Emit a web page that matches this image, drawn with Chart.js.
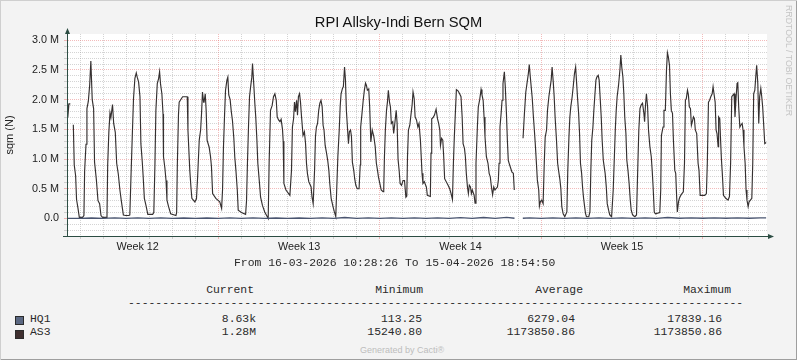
<!DOCTYPE html>
<html>
<head>
<meta charset="utf-8">
<script src="https://cdn.jsdelivr.net/npm/chart.js@4.4.1/dist/chart.umd.min.js"></script>
<style>
  body { margin: 0; background: #fff; }
  #wrap {
    position: relative; width: 797px; height: 360px; overflow: hidden;
    background: #f3f3f3;
    box-shadow: inset 1px 1px 0 #cfcfcf, inset -1px -1px 0 #9e9e9e;
    font-family: 'Liberation Sans', Arial, sans-serif;
  }
  #graph { position: absolute; left: 0; top: 0; }
  .t { position: absolute; white-space: pre; }
  .mono { font-family: 'Liberation Mono', 'DejaVu Sans Mono', monospace; font-size: 11.4px; line-height: 13px; color: #2a2a2a; }
  .swatch { position: absolute; width: 9px; height: 9px; box-sizing: border-box; border: 1px solid #2b2b2b; }
</style>
</head>
<body>
<div id="wrap">
  <canvas id="graph" width="797" height="260"></canvas>
  <div class="t" id="title" style="left:0;width:797px;top:14px;text-align:center;font-size:14.7px;line-height:17px;color:#111">RPI Allsky-Indi Bern SQM</div>
  <div class="t" style="left:784px;top:5px;writing-mode:vertical-rl;font-size:8.8px;line-height:9px;color:#c4c4c4">RRDTOOL / TOBI OETIKER</div>
  <div class="t" style="left:0;width:804px;top:345px;text-align:center;font-size:9px;line-height:10px;color:#bdbdbd">Generated by Cacti®</div>
  <div id="legend"></div>
</div>

<script>
// ======================= DATA =======================
// x = days since Monday 16-03-2026 00:00, y = sqm value in millions
const xMin = 0.436;   // 16-03-2026 10:28:26
const xMax = 30.788;  // 15-04-2026 18:54:50

const weekStarts = [7, 14, 21, 28];
const weekLabelPos = [3.5, 10.5, 17.5, 24.5];
const weekLabels = ['Week 12', 'Week 13', 'Week 14', 'Week 15'];

const yLabelValues = [0, 0.5, 1.0, 1.5, 2.0, 2.5, 3.0];
const yLabels = ['0.0', '0.5 M', '1.0 M', '1.5 M', '2.0 M', '2.5 M', '3.0 M'];

const as3Week12 = [
  [0.44,1.92],[0.47,1.70],[0.52,1.93],[0.58,1.93],[0.62,null],[0.71,1.58],[0.75,0.90],[0.81,0.72],
  [0.85,0.32],[0.91,0.18],[0.97,0.02],[1.11,0.02],[1.17,0.05],[1.20,0.80],[1.26,1.25],[1.30,1.85],
  [1.36,1.97],[1.42,2.25],[1.47,2.65],[1.53,2.00],[1.59,1.85],[1.63,0.95],[1.71,0.65],[1.78,0.30],
  [1.85,0.25],[1.91,0.05],[1.98,0.02],[2.14,0.02],[2.17,0.03],[2.20,0.90],[2.25,1.45],[2.30,1.78],
  [2.34,1.70],[2.41,1.92],[2.46,1.60],[2.53,1.45],[2.59,0.93],[2.66,0.75],[2.73,0.48],[2.79,0.30],
  [2.88,0.06],[2.98,0.05],[3.12,0.05],[3.16,0.06],[3.21,0.70],[3.27,1.43],[3.32,2.02],[3.38,2.36],
  [3.44,2.45],[3.48,2.38],[3.54,2.30],[3.60,2.05],[3.64,1.26],[3.70,0.95],[3.74,0.70],[3.79,0.34],
  [3.86,0.22],[3.94,0.07],[4.15,0.07],[4.20,0.10],[4.25,0.93],[4.29,1.82],[4.35,2.27],[4.41,2.36],
  [4.45,2.47],[4.49,2.27],[4.55,2.10],[4.60,1.76],[4.62,1.04],[4.68,0.85],[4.73,0.64],[4.77,0.31],
  [4.84,0.20],[4.93,0.08],[5.16,0.05],[5.19,0.10],[5.22,0.90],[5.27,1.75],[5.30,1.96],[5.40,2.02],
  [5.45,2.05],[5.65,2.05],[5.68,1.49],[5.72,1.15],[5.76,0.81],[5.81,0.53],[5.85,0.34],[5.98,0.28],
  [6.05,0.33],[6.10,0.70],[6.17,1.32],[6.23,1.49],[6.27,1.77],[6.31,2.13],[6.36,1.96],[6.38,1.96],
  [6.43,2.10],[6.47,1.82],[6.51,1.32],[6.60,1.20],[6.66,1.04],[6.70,0.87],[6.75,0.42],[6.89,0.34]
];

const as3Week13 = [
  [7.06,0.28],[7.14,0.17],[7.18,0.48],[7.22,1.20],[7.27,1.77],[7.31,2.16],[7.37,2.33],[7.41,2.38],
  [7.45,2.08],[7.51,2.00],[7.56,1.80],[7.61,1.65],[7.67,1.35],[7.71,1.04],[7.76,0.81],[7.82,0.48],
  [7.86,0.14],[8.00,0.10],[8.18,0.07],[8.22,0.30],[8.26,0.93],[8.31,1.60],[8.35,2.05],[8.39,2.19],
  [8.45,2.38],[8.48,2.61],[8.54,2.22],[8.58,1.94],[8.62,1.71],[8.67,1.32],[8.71,0.93],[8.77,0.65],
  [8.83,0.36],[8.91,0.22],[9.01,0.11],[9.12,0.03],[9.16,0.00],[9.20,0.93],[9.26,1.82],[9.33,1.90],
  [9.39,2.05],[9.45,2.10],[9.51,1.99],[9.55,1.71],[9.61,1.66],[9.67,1.63],[9.72,1.67],[9.78,1.50],
  [9.81,1.30],[9.84,0.59],[9.93,0.48],[10.10,0.39],[10.17,0.81],[10.21,1.54],[10.26,1.68],[10.30,1.96],
  [10.34,1.80],[10.39,1.99],[10.43,1.74],[10.47,2.05],[10.52,2.10],[10.56,1.96],[10.60,1.74],[10.67,1.40],
  [10.73,1.46],[10.78,1.26],[10.82,0.93],[10.86,0.76],[10.92,0.62],[11.02,0.53],[11.06,0.36],[11.11,0.25],
  [11.17,0.81],[11.21,1.38],[11.25,1.54],[11.30,1.60],[11.35,1.82],[11.40,1.94],[11.45,1.99],[11.50,1.88],
  [11.54,1.57],[11.58,1.49],[11.63,1.23],[11.69,1.10],[11.74,0.98],[11.79,0.81],[11.83,0.59],[11.89,0.34],
  [11.97,0.20],[12.03,0.11],[12.09,0.03],[12.13,0.48],[12.18,1.04],[12.24,1.49],[12.28,1.88],[12.32,2.10],
  [12.38,2.19],[12.42,2.22],[12.47,2.55],[12.51,2.33],[12.55,1.82],[12.60,1.51],[12.64,1.26],[12.68,1.46],
  [12.73,1.49],[12.77,1.38],[12.81,0.95],[12.87,0.81],[12.91,0.67],[12.96,0.56],[13.02,0.50],[13.10,0.50],
  [13.15,0.90],[13.17,1.54],[13.22,1.74],[13.28,1.99],[13.33,2.16],[13.38,2.28],[13.42,2.24],[13.46,2.16],
  [13.52,2.18],[13.56,1.88],[13.61,1.29],[13.67,1.49],[13.74,1.38],[13.80,1.21],[13.85,0.93],[13.90,0.81],
  [13.94,0.70]
];

const as3Week14 = [
  [14.00,0.59],[14.06,0.48],[14.14,0.45],[14.17,0.50],[14.20,1.04],[14.24,1.49],[14.29,1.82],[14.33,1.96],
  [14.37,2.16],[14.42,1.96],[14.46,1.88],[14.50,1.60],[14.56,1.63],[14.60,1.43],[14.65,1.60],[14.71,1.82],
  [14.75,1.60],[14.79,1.00],[14.84,0.80],[14.88,0.59],[14.94,0.56],[15.01,0.64],[15.07,0.64],[15.13,0.36],
  [15.17,0.38],[15.20,1.04],[15.24,1.49],[15.30,1.57],[15.34,1.71],[15.40,1.91],[15.44,2.13],[15.49,2.02],
  [15.53,1.71],[15.59,1.66],[15.65,1.54],[15.70,1.60],[15.76,1.32],[15.83,0.76],[15.87,0.59],[15.93,0.62],
  [16.02,0.53],[16.06,0.39],[16.19,0.37],[16.22,1.10],[16.25,1.68],[16.31,1.70],[16.37,1.74],[16.44,1.84],
  [16.50,1.68],[16.55,1.60],[16.60,1.49],[16.63,1.23],[16.68,1.35],[16.73,1.32],[16.77,1.04],[16.81,0.67],
  [16.96,0.56],[17.03,0.50],[17.09,0.42],[17.15,0.32],[17.19,0.93],[17.23,1.37],[17.28,1.82],[17.32,2.17],
  [17.39,2.15],[17.46,2.10],[17.52,2.05],[17.57,1.71],[17.61,1.26],[17.67,1.18],[17.71,1.04],[17.75,0.76],
  [17.80,0.53],[17.84,0.42],[17.88,0.56],[17.93,0.53],[17.97,0.42],[18.01,0.48],[18.09,0.39],[18.13,0.26],
  [18.17,0.93],[18.23,1.54],[18.27,1.88],[18.33,2.00],[18.39,2.17],[18.43,2.08],[18.48,1.99],[18.52,1.71],
  [18.56,1.38],[18.62,1.04],[18.69,0.93],[18.74,0.76],[18.79,0.70],[18.84,0.53],[18.89,0.40],[18.94,0.53],
  [18.99,0.48],[19.10,0.53],[19.14,0.65],[19.17,0.93],[19.21,1.54],[19.26,1.77],[19.30,1.99],[19.34,2.27],
  [19.40,2.47],[19.44,2.22],[19.49,1.77],[19.53,1.32],[19.57,0.98],[19.63,0.90],[19.73,0.78],[19.79,0.76],
  [19.83,0.48],[19.86,null],[20.21,1.35],[20.27,1.77],[20.33,2.13],[20.38,2.27],[20.44,2.44],[20.48,2.59],
  [20.53,2.36],[20.57,2.19],[20.61,2.02],[20.66,1.71],[20.70,1.49],[20.74,1.26],[20.79,0.93],[20.83,0.65],
  [20.89,0.48],[20.92,0.21],[20.96,0.28]
];

const as3Week15 = [
  [21.02,0.31],[21.08,0.25],[21.13,0.93],[21.17,1.37],[21.23,1.49],[21.27,1.82],[21.33,2.05],[21.39,2.22],
  [21.43,2.33],[21.47,2.55],[21.52,2.30],[21.56,2.05],[21.60,1.71],[21.66,1.32],[21.71,0.93],[21.75,0.81],
  [21.81,0.65],[21.85,0.50],[21.89,0.20],[21.95,0.08],[22.02,0.03],[22.11,0.11],[22.15,0.81],[22.20,1.37],
  [22.24,1.71],[22.28,1.88],[22.34,2.05],[22.39,2.24],[22.44,2.44],[22.49,2.55],[22.53,2.30],[22.57,2.05],
  [22.62,1.77],[22.66,1.43],[22.70,0.93],[22.75,0.76],[22.79,0.53],[22.83,0.36],[22.88,0.20],[22.92,0.08],
  [22.96,0.03],[23.06,0.03],[23.11,0.11],[23.15,0.81],[23.19,1.32],[23.24,1.54],[23.28,1.82],[23.32,2.05],
  [23.37,2.33],[23.41,2.38],[23.47,2.41],[23.51,2.33],[23.56,1.99],[23.60,1.71],[23.64,1.32],[23.69,0.98],
  [23.73,0.87],[23.77,0.76],[23.82,0.53],[23.86,0.25],[23.92,0.14],[23.97,0.06],[24.05,0.03],[24.12,0.48],
  [24.16,0.93],[24.21,1.49],[24.25,1.82],[24.29,2.05],[24.35,2.24],[24.41,2.50],[24.45,2.75],[24.49,2.55],
  [24.54,2.38],[24.58,2.10],[24.62,1.71],[24.67,1.43],[24.71,0.98],[24.76,0.81],[24.81,0.59],[24.86,0.31],
  [24.90,0.14],[24.96,0.06],[25.06,0.03],[25.13,0.06],[25.19,0.93],[25.23,1.49],[25.28,1.85],[25.33,1.91],
  [25.39,1.94],[25.45,1.77],[25.48,1.63],[25.52,1.91],[25.56,2.10],[25.61,1.88],[25.65,1.49],[25.71,1.21],
  [25.77,1.04],[25.81,0.81],[25.85,0.53],[25.90,0.11],[25.95,0.08],[26.14,0.10],[26.18,0.48],[26.21,1.40],
  [26.28,1.54],[26.32,1.82],[26.38,1.82],[26.43,2.50],[26.47,2.79],[26.51,2.72],[26.56,2.58],[26.60,2.10],
  [26.64,1.82],[26.69,1.77],[26.73,1.32],[26.79,0.81],[26.83,0.76],[26.87,0.37],[26.90,0.11],[26.95,0.28],
  [26.99,0.34],[27.05,0.39],[27.10,0.42],[27.16,0.45],[27.21,0.93],[27.25,1.99],[27.29,2.02],[27.34,2.16],
  [27.38,2.08],[27.42,1.88],[27.47,1.85],[27.51,1.57],[27.55,1.63],[27.60,1.71],[27.64,1.68],[27.68,1.49],
  [27.74,1.43],[27.80,0.93],[27.84,0.81],[27.89,0.39]
];

const as3Week16 = [
  [28.09,0.39],[28.16,0.42],[28.20,0.93],[28.25,1.96],[28.30,1.99],[28.35,2.05],[28.41,2.10],[28.45,2.22],
  [28.49,2.10],[28.54,1.96],[28.58,1.49],[28.62,1.43],[28.67,1.21],[28.69,1.71],[28.74,1.68],[28.77,1.37],
  [28.81,1.01],[28.85,0.76],[28.90,0.39],[29.00,0.34],[29.10,0.31],[29.16,0.37],[29.21,0.93],[29.26,2.05],
  [29.32,2.08],[29.36,2.10],[29.40,1.71],[29.45,2.05],[29.49,2.27],[29.52,2.30],[29.56,1.88],[29.61,1.54],
  [29.65,1.57],[29.71,1.60],[29.75,1.49],[29.79,1.21],[29.84,0.93],[29.88,0.48],[29.92,0.31],[29.97,0.20],
  [30.01,0.28],[30.13,0.34],[30.17,0.93],[30.21,2.10],[30.26,2.16],[30.30,2.38],[30.34,2.58],[30.39,2.27],
  [30.43,1.60],[30.47,2.05],[30.52,2.19],[30.56,2.05],[30.60,1.88],[30.65,1.54],[30.69,1.26],[30.75,1.28]
];

const hq1Points = [
  [0.44,0.003],[1.0,0.002],[1.5,0.008],[2.0,0.002],[2.5,0.009],[3.0,0.002],[3.5,0.010],[4.0,0.002],
  [4.5,0.010],[5.0,0.002],[5.5,0.008],[6.0,0.003],[6.5,0.008],[7.0,0.003],[7.5,0.010],[8.0,0.002],
  [8.5,0.011],[9.0,0.002],[9.5,0.008],[10.0,0.003],[10.5,0.008],[11.0,0.003],[11.5,0.009],[12.0,0.002],
  [12.48,0.017],[13.0,0.003],[13.5,0.009],[14.0,0.003],[14.5,0.009],[15.0,0.003],[15.5,0.010],[16.0,0.003],
  [16.5,0.009],[17.0,0.003],[17.5,0.016],[18.0,0.003],[18.5,0.017],[19.0,0.003],[19.5,0.018],[19.84,0.004],
  [19.86,null],[20.2,0.004],[20.5,0.011],[21.0,0.002],[21.5,0.011],[22.0,0.002],[22.5,0.011],[23.0,0.002],
  [23.5,0.011],[24.0,0.002],[24.5,0.012],[25.0,0.002],[25.5,0.010],[26.0,0.003],[26.48,0.017],[27.0,0.004],
  [27.5,0.009],[28.0,0.004],[28.5,0.009],[29.0,0.004],[29.5,0.009],[30.0,0.004],[30.5,0.010],[30.75,0.009]
];

// legend table
const seriesNames = ['HQ1', 'AS3'];
const seriesColors = ['#5b6882', '#3f2f2f'];
const statCurrent = ['8.63k', '1.28M'];
const statMinimum = ['113.25', '15240.80'];
const statAverage = ['6279.04', '1173850.86'];
const statMaximum = ['17839.16', '1173850.86'];

// ======================= STYLE =======================
const AXIS = '#2c4d43';
const MINOR = 'rgba(160,160,160,0.45)';
const MAJOR = 'rgba(232,120,120,0.5)';
const LINE_HQ1 = '#4a5570';
const LINE_AS3 = '#353030';

Chart.defaults.font.family = "'Liberation Sans', Arial, sans-serif";

const toXY = pts => pts.map(([x, y]) => ({ x: x, y: y }));

// white plot area
const plotBg = {
    id: 'plotBg',
    beforeDraw(chart) {
        const { ctx, chartArea: a } = chart;
        ctx.save();
        ctx.fillStyle = '#ffffff';
        ctx.fillRect(a.left, a.top, a.right - a.left, a.bottom - a.top);
        ctx.restore();
    }
};

// axis extensions + arrow heads (rrdtool style)
const axisArrows = {
    id: 'axisArrows',
    afterDraw(chart) {
        const { ctx, chartArea: a } = chart;
        const ax = Math.round(a.left) + 0.5;
        const ay = Math.round(a.bottom) + 0.5;
        ctx.save();
        ctx.strokeStyle = AXIS;
        ctx.fillStyle = AXIS;
        ctx.lineWidth = 1;
        ctx.beginPath();
        ctx.moveTo(ax, a.bottom); ctx.lineTo(ax, 33);
        ctx.moveTo(a.left - 4, ay); ctx.lineTo(a.right + 2, ay);
        ctx.stroke();
        ctx.beginPath();
        ctx.moveTo(ax, 28); ctx.lineTo(ax - 2.5, 34); ctx.lineTo(ax + 2.5, 34); ctx.closePath();
        ctx.fill();
        ctx.beginPath();
        ctx.moveTo(a.right + 7, ay); ctx.lineTo(a.right + 1, ay - 2.5); ctx.lineTo(a.right + 1, ay + 2.5); ctx.closePath();
        ctx.fill();
        ctx.restore();
    }
};

document.addEventListener("DOMContentLoaded", () => {

    const ctx = document.getElementById('graph').getContext('2d');

    new Chart(ctx, {
        type: 'line',
        data: {
            datasets: [
                { label: 'HQ1', data: toXY(hq1Points), borderColor: LINE_HQ1, borderWidth: 1.3, pointRadius: 0, tension: 0 },
                { label: 'AS3', data: toXY([...as3Week12, ...as3Week13, ...as3Week14, ...as3Week15, ...as3Week16]),
                  borderColor: LINE_AS3, borderWidth: 1.15, pointRadius: 0, tension: 0 }
            ]
        },
        options: {
            responsive: false,
            animation: false,
            layout: { padding: { top: 34, right: 30, left: 0, bottom: 0 } },
            plugins: { legend: { display: false }, tooltip: { enabled: false } },
            scales: {
                x: {
                    type: 'linear',
                    min: xMin,
                    max: xMax,
                    afterBuildTicks: s => {
                        const t = [];
                        for (let d = 1; d <= 30; d++) t.push(d);
                        weekLabelPos.forEach(p => t.push(p));
                        t.sort((a, b) => a - b);
                        s.ticks = t.map(v => ({ value: v }));
                    },
                    afterFit: s => { s.height = 24; },
                    ticks: {
                        autoSkip: false, maxRotation: 0, minRotation: 0, padding: 1.5,
                        color: '#222', font: { size: 10.8 },
                        callback: v => {
                            const i = weekLabelPos.indexOf(v);
                            return i >= 0 ? weekLabels[i] : '';
                        }
                    },
                    grid: {
                        lineWidth: 1,
                        tickLength: 3,
                        color: c => {
                            const v = c.tick ? c.tick.value : 0;
                            if (v % 1 !== 0) return 'rgba(0,0,0,0)';
                            return weekStarts.includes(v) ? MAJOR : MINOR;
                        },
                        tickColor: c => {
                            const v = c.tick ? c.tick.value : 0;
                            if (v % 1 !== 0) return 'rgba(0,0,0,0)';
                            return weekStarts.includes(v) ? MAJOR : MINOR;
                        }
                    },
                    border: { display: true, color: AXIS, width: 1, dash: [1, 1] }
                },
                y: {
                    // 0 lands on a pixel centre (218.5), 3.0 near y=40
                    min: -0.2946,
                    max: 3.106,
                    afterBuildTicks: s => {
                        const t = [];
                        for (let i = -2; i <= 30; i++) t.push({ value: i / 10 });
                        s.ticks = t;
                    },
                    afterFit: s => { s.width = 67; },
                    ticks: {
                        autoSkip: false,
                        padding: 5,
                        color: '#222', font: { size: 10.8 },
                        callback: v => {
                            const r = Math.round(v * 10);
                            const i = yLabelValues.findIndex(y => Math.round(y * 10) === r);
                            return i >= 0 ? yLabels[i] : '';
                        }
                    },
                    grid: {
                        lineWidth: 1,
                        tickLength: 3,
                        color: c => {
                            const r = c.tick ? Math.round(c.tick.value * 10) : 1;
                            if (r === 0) return 'rgba(0,0,0,0)';   // hidden under the HQ1 baseline
                            return r % 5 === 0 ? MAJOR : MINOR;
                        },
                        tickColor: c => {
                            const r = c.tick ? Math.round(c.tick.value * 10) : 1;
                            return r % 5 === 0 ? MAJOR : MINOR;
                        }
                    },
                    border: { display: true, color: AXIS, width: 1, dash: [1, 1] },
                    title: {
                        display: true, text: 'sqm (N)', color: '#222',
                        font: { size: 11 }, padding: { top: 3, bottom: 0 }
                    }
                }
            }
        },
        plugins: [plotBg, axisArrows]
    });

    // ======================= LEGEND (rrdtool text block) =======================
    const legend = document.getElementById('legend');
    function put(text, x, top, align) {
        const el = document.createElement('div');
        el.className = 't mono';
        el.textContent = text;
        el.style.top = top + 'px';
        if (align === 'right') el.style.right = (797 - x) + 'px';
        else el.style.left = x + 'px';
        legend.appendChild(el);
        return el;
    }

    put('From 16-03-2026 10:28:26 To 15-04-2026 18:54:50', 234, 256.5);

    const colRight = [256, 422, 575, 722];
    const headers = ['Current', 'Minimum', 'Average', 'Maximum'];
    const headerRight = [254, 423, 583, 731];
    headers.forEach((h, i) => put(h, headerRight[i], 284, 'right'));

    const dash = put('-'.repeat(120), 128, 297);
    dash.style.width = '616px';
    dash.style.overflow = 'hidden';

    const rowTops = [312.5, 326];
    const swatchTops = [315.5, 329.5];
    seriesNames.forEach((name, i) => {
        const sw = document.createElement('div');
        sw.className = 'swatch';
        sw.style.left = '15px';
        sw.style.top = swatchTops[i] + 'px';
        sw.style.background = seriesColors[i];
        legend.appendChild(sw);
        put(name, 30, rowTops[i]);
        put(statCurrent[i], colRight[0], rowTops[i], 'right');
        put(statMinimum[i], colRight[1], rowTops[i], 'right');
        put(statAverage[i], colRight[2], rowTops[i], 'right');
        put(statMaximum[i], colRight[3], rowTops[i], 'right');
    });
});
</script>
</body>
</html>
